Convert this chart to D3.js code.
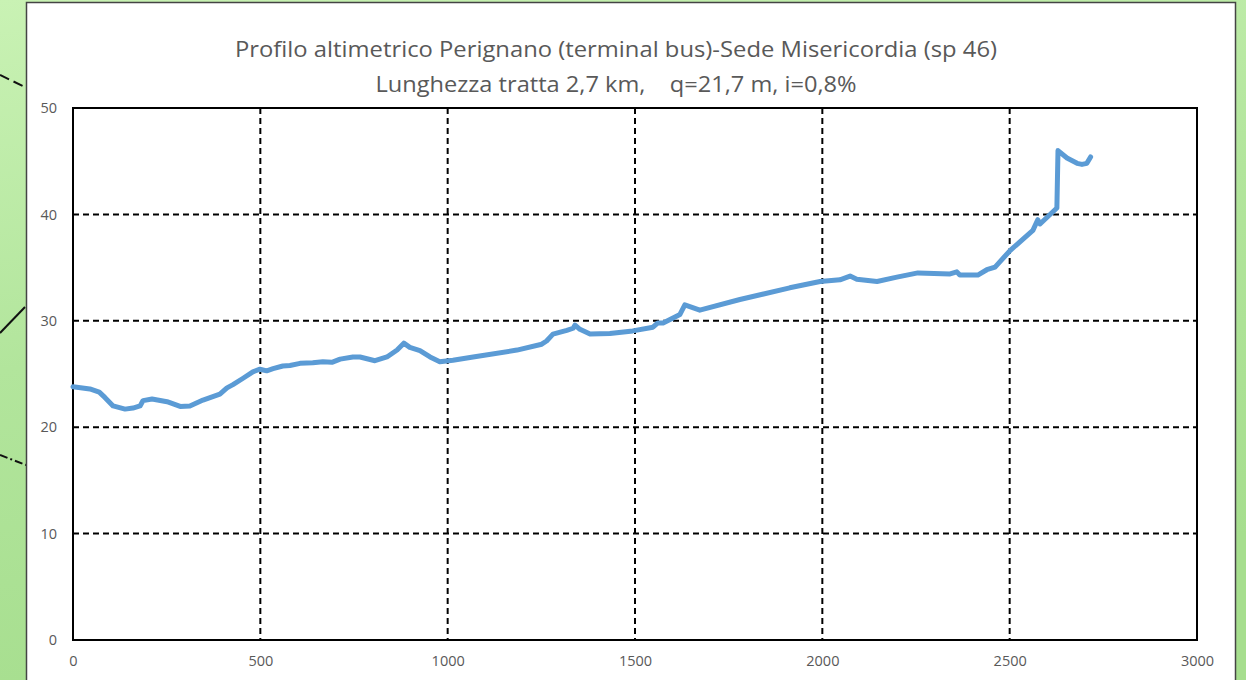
<!DOCTYPE html>
<html>
<head>
<meta charset="utf-8">
<script src="https://cdn.jsdelivr.net/npm/d3@7"></script>
<style>
  body { margin: 0; overflow: hidden; }
  svg { display: block; font-family: "Open Sans", "Noto Sans", sans-serif; }
</style>
</head>
<body>
<svg width="1246" height="680"></svg>
<script>
const TITLE = "Profilo altimetrico Perignano (terminal bus)-Sede Misericordia (sp 46)";
const SUBTITLE = "Lunghezza tratta 2,7 km,    q=21,7 m, i=0,8%";

// distance (m) and altitude (m)
const dist = [0, 45, 70, 85, 107, 139, 160, 179, 187, 211, 251, 286, 312, 347, 392, 411, 427, 454, 480, 499, 517, 534, 560, 579, 606, 640, 667, 691, 713, 747, 766, 806, 838, 865, 883, 899, 926, 953, 979, 1014, 1068, 1185, 1251, 1264, 1281, 1318, 1335, 1340, 1353, 1380, 1433, 1494, 1548, 1561, 1575, 1620, 1633, 1673, 1780, 1913, 1994, 2047, 2074, 2092, 2146, 2199, 2255, 2341, 2359, 2367, 2415, 2439, 2461, 2501, 2562, 2575, 2581, 2626, 2629, 2653, 2680, 2693, 2706, 2716];
const alt = [23.8, 23.6, 23.3, 22.8, 22.0, 21.7, 21.8, 22.0, 22.5, 22.65, 22.4, 21.95, 22.0, 22.55, 23.1, 23.7, 24.0, 24.6, 25.2, 25.45, 25.3, 25.5, 25.75, 25.8, 26.0, 26.05, 26.15, 26.1, 26.4, 26.6, 26.6, 26.25, 26.6, 27.25, 27.9, 27.5, 27.2, 26.6, 26.15, 26.3, 26.6, 27.25, 27.8, 28.1, 28.75, 29.1, 29.3, 29.6, 29.2, 28.75, 28.8, 29.05, 29.4, 29.8, 29.8, 30.6, 31.5, 31.0, 32.0, 33.1, 33.7, 33.85, 34.2, 33.9, 33.7, 34.1, 34.5, 34.4, 34.6, 34.3, 34.3, 34.8, 35.05, 36.6, 38.5, 39.5, 39.1, 40.6, 46.0, 45.3, 44.8, 44.7, 44.8, 45.4];

const xTicks = [0, 500, 1000, 1500, 2000, 2500, 3000];
const yTicks = [0, 10, 20, 30, 40, 50];

const svg = d3.select("svg");

// green map background
const defs = svg.append("defs");
const grad = defs.append("linearGradient").attr("id", "bg")
    .attr("x1", 0).attr("y1", 0).attr("x2", 0.3).attr("y2", 1);
grad.append("stop").attr("offset", 0).attr("stop-color", "#c9f2b4");
grad.append("stop").attr("offset", 0.5).attr("stop-color", "#b2e59c");
grad.append("stop").attr("offset", 1).attr("stop-color", "#a6de8e");
svg.append("rect").attr("width", 1246).attr("height", 680).attr("fill", "url(#bg)");

// bits of map lines peeking out on the left
const deco = svg.append("g").attr("stroke", "#111").attr("stroke-width", 2);
deco.append("line").attr("x1", 0).attr("y1", 75).attr("x2", 25).attr("y2", 87).attr("stroke-dasharray", "10,5");
deco.append("line").attr("x1", 0).attr("y1", 333).attr("x2", 25).attr("y2", 307);
deco.append("line").attr("x1", 0).attr("y1", 455).attr("x2", 26).attr("y2", 465).attr("stroke-dasharray", "8,3,2,3");

// chart panel
svg.append("rect")
    .attr("x", 26.5).attr("y", 2.5).attr("width", 1209).attr("height", 690)
    .attr("fill", "#fff").attr("stroke", "#444").attr("stroke-width", 1.5);

const x = d3.scaleLinear().domain([0, 3000]).range([73, 1197]);
const y = d3.scaleLinear().domain([0, 50]).range([640, 108]);

// title
svg.append("text")
    .attr("x", 616).attr("y", 57)
    .attr("text-anchor", "middle")
    .attr("fill", "#595959")
    .attr("font-size", 22)
    .attr("textLength", 762)
    .attr("lengthAdjust", "spacingAndGlyphs")
    .text(TITLE);
svg.append("text")
    .attr("x", 616).attr("y", 92)
    .attr("text-anchor", "middle")
    .attr("fill", "#595959")
    .attr("font-size", 22)
    .attr("textLength", 481)
    .attr("lengthAdjust", "spacingAndGlyphs")
    .style("white-space", "pre")
    .text(SUBTITLE);

// grid
const grid = svg.append("g")
    .attr("stroke", "#000").attr("stroke-width", 2).attr("stroke-dasharray", "6,4");
grid.selectAll(".gx")
    .data(xTicks.slice(1, -1))
    .enter().append("line")
        .attr("x1", d => x(d)).attr("x2", d => x(d))
        .attr("y1", y(50)).attr("y2", y(0));
grid.selectAll(".gy")
    .data(yTicks.slice(1, -1))
    .enter().append("line")
        .attr("y1", d => y(d)).attr("y2", d => y(d))
        .attr("x1", x(0)).attr("x2", x(3000));

// plot border
svg.append("rect")
    .attr("x", x(0)).attr("y", y(50))
    .attr("width", x(3000) - x(0)).attr("height", y(0) - y(50))
    .attr("fill", "none").attr("stroke", "#000").attr("stroke-width", 2);

// axes (labels only)
const xAxis = svg.append("g")
    .attr("transform", `translate(0,${y(0)})`)
    .call(d3.axisBottom(x).tickValues(xTicks).tickSize(0).tickPadding(16).tickFormat(d3.format("")));
const yAxis = svg.append("g")
    .attr("transform", `translate(${x(0)},0)`)
    .call(d3.axisLeft(y).tickValues(yTicks).tickSize(0).tickPadding(16).tickFormat(d3.format("")));
[xAxis, yAxis].forEach(a => {
    a.select(".domain").remove();
    a.selectAll("text")
        .attr("fill", "#595959")
        .attr("font-size", 14.5)
        .attr("font-family", "\"Open Sans\", \"Noto Sans\", sans-serif");
});

// profile line
const pts = dist.map((d, i) => [d, alt[i]]);
svg.append("path")
    .datum(pts)
    .attr("fill", "none")
    .attr("stroke", "#5b9bd5")
    .attr("stroke-width", 5)
    .attr("stroke-linejoin", "round")
    .attr("stroke-linecap", "round")
    .attr("d", d3.line().x(d => x(d[0])).y(d => y(d[1])));
</script>
</body>
</html>
